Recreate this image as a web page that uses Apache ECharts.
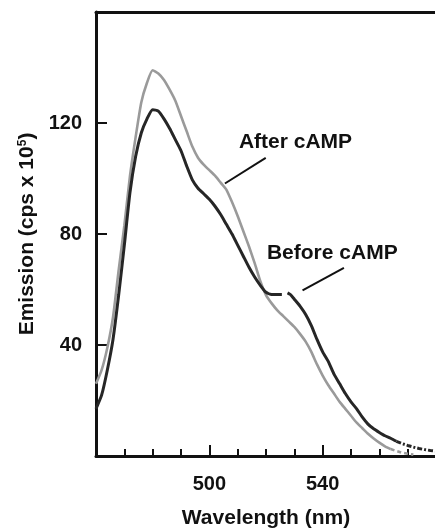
<!DOCTYPE html>
<html>
<head>
<meta charset="utf-8">
<script src="https://cdn.jsdelivr.net/npm/echarts@6/dist/echarts.min.js"></script>
<style>
html,body{margin:0;padding:0;background:#fff;overflow:hidden;}
#chart{width:436px;height:532px;}
</style>
</head>
<body>
<div id="chart"></div>
<script>
// ---- data ----
const afterX = [460,462,464,466,468,470,472,474,476,478,480,482,484,486,488,490,492,494,496,498,500,502,504,506,508,510,512,514,516,518,520,522,524,526,528,530,532,534,536,538,540,542,544,546,548,550,552,554,556,558,560,562,564,566,568,570,572];
const afterY = [26,31,39,50,67,83,101,115,127.5,134.5,139,137.8,135.5,132,128,122.5,117,111.5,107.5,105,103,101,98.5,96,91.5,86.5,81,75.5,69.5,63,58,55,52.5,50.5,48.5,46.5,44,41.2,37.5,33,29,25.5,22.5,19.5,17,14.5,12,10,8,6.3,4.8,3.5,2.5,1.8,1.2,0.8,0.5];
const beforeX = [460,462,464,466,468,470,472,474,476,478,480,482,484,486,488,490,492,494,496,498,500,502,504,506,508,510,512,514,516,518,520,522,524,525.6,526.6,527.6,528.6,530,532,534,536,538,540,542,544,546,548,550,552,554,556,558,560,562,564,566,568,570,572,574,576,578,580];
const beforeY = [17,22,31,42,58,76,95,108,116.5,121.5,124.8,124.3,121.5,118,114,110,104.5,99.5,96.5,94.5,92.5,90,87,83.5,80,76,72,68,64.5,61.5,59,58.2,58.2,58.2,null,58.8,58.2,56.5,54,51,47,42,37.5,34,29.5,26,22.5,19.5,17,14,11.5,9.8,8.5,7.3,6.4,5.3,4.5,3.8,3.2,2.7,2.3,2,1.8];
const afterSolidEnd = 564;   // after this wavelength the trace is dotted
const beforeSolidEnd = 566;
const xTicks = [460, 500, 540, 580];
const yTicks = [0, 40, 80, 120, 160];
const xLabelsShown = [500, 540];
const yLabelsShown = [40, 80, 120];
const labelAfter = 'After cAMP';
const labelBefore = 'Before cAMP';

function pairs(xs, ys, lo, hi) {
  const out = [];
  for (let i = 0; i < xs.length; i++) {
    if (xs[i] >= lo && xs[i] <= hi) out.push([xs[i], ys[i] === null ? '-' : ys[i]]);
  }
  return out;
}

const FONT = '"Liberation Sans", Arial, Helvetica, sans-serif';
const GRAY = '#9a9a9a';
const DARK = '#262626';

const chart = echarts.init(document.getElementById('chart'), null, {renderer: 'canvas'});
chart.setOption({
  animation: false,
  backgroundColor: '#fff',
  grid: {left: 96, right: 0, top: 12, bottom: 76, containLabel: false, outerBoundsMode: 'none'},
  xAxis: [{
    type: 'value',
    min: xTicks[0], max: xTicks[xTicks.length - 1], interval: xTicks[1] - xTicks[0],
    position: 'bottom',
    name: 'Wavelength (nm)', nameLocation: 'middle', nameGap: 52,
    nameTextStyle: {fontFamily: FONT, fontWeight: 'bold', fontSize: 21, color: '#111'},
    axisLine: {show: true, onZero: false, lineStyle: {color: '#111', width: 3}},
    axisTick: {show: true, inside: true, length: 11, lineStyle: {color: '#111', width: 2}},
    minorTick: {show: true, splitNumber: 4, length: 7, lineStyle: {color: '#111', width: 2}},
    axisLabel: {
      margin: 18, fontFamily: FONT, fontWeight: 'bold', fontSize: 20, color: '#111',
      formatter: v => xLabelsShown.includes(v) ? String(v) : ''
    },
    splitLine: {show: false}
  }, {
    type: 'value',
    min: xTicks[0], max: xTicks[xTicks.length - 1],
    position: 'top',
    axisLine: {show: true, onZero: false, lineStyle: {color: '#111', width: 3}},
    axisTick: {show: false}, axisLabel: {show: false}, splitLine: {show: false}
  }],
  yAxis: {
    type: 'value',
    min: yTicks[0], max: yTicks[yTicks.length - 1], interval: yTicks[1] - yTicks[0],
    name: 'Emission (cps x 10{sup|5})', nameLocation: 'middle', nameGap: 57,
    nameTextStyle: {
      fontFamily: FONT, fontWeight: 'bold', fontSize: 21, color: '#111',
      rich: {sup: {fontFamily: FONT, fontWeight: 'bold', fontSize: 12, color: '#111', verticalAlign: 'top', padding: [0, 0, 10, 0]}}
    },
    axisLine: {show: true, onZero: false, lineStyle: {color: '#111', width: 3}},
    axisTick: {show: true, inside: true, length: 11, lineStyle: {color: '#111', width: 2}},
    axisLabel: {
      margin: 14, fontFamily: FONT, fontWeight: 'bold', fontSize: 20, color: '#111',
      formatter: v => yLabelsShown.includes(v) ? String(v) : ''
    },
    splitLine: {show: false}
  },
  series: [
    {
      name: 'After cAMP', type: 'line', showSymbol: false, smooth: 0.2,
      data: pairs(afterX, afterY, 0, afterSolidEnd),
      lineStyle: {color: GRAY, width: 2.6}, z: 2,
      markLine: {
        silent: true, symbol: ['none', 'none'], label: {show: false},
        lineStyle: {color: '#111', width: 2, type: 'solid'},
        data: [
          [{coord: [519.9, 107.4]}, {coord: [505.5, 98.2]}],
          [{coord: [547.5, 67.8]}, {coord: [532.9, 59.7]}]
        ]
      },
      markPoint: {
        silent: true, symbol: 'circle', symbolSize: 0,
        label: {show: true, position: 'inside', fontFamily: FONT, fontWeight: 'bold', fontSize: 21, color: '#111'},
        data: [
          {coord: [530.4, 113.2], label: {formatter: labelAfter}},
          {coord: [543.4, 73], label: {formatter: labelBefore}}
        ]
      }
    },
    {
      name: 'After cAMP tail', type: 'line', showSymbol: false,
      data: pairs(afterX, afterY, afterSolidEnd, 9999),
      lineStyle: {color: GRAY, width: 2.6, type: [4, 3]}, z: 2
    },
    {
      name: 'Before cAMP', type: 'line', showSymbol: false, smooth: 0.2, connectNulls: false,
      data: pairs(beforeX, beforeY, 0, beforeSolidEnd),
      lineStyle: {color: DARK, width: 3}, z: 3
    },
    {
      name: 'Before cAMP tail', type: 'line', showSymbol: false,
      data: pairs(beforeX, beforeY, beforeSolidEnd, 9999),
      lineStyle: {color: DARK, width: 3, type: [5, 2, 2, 2]}, z: 3
    }
  ]
});
</script>
</body>
</html>
